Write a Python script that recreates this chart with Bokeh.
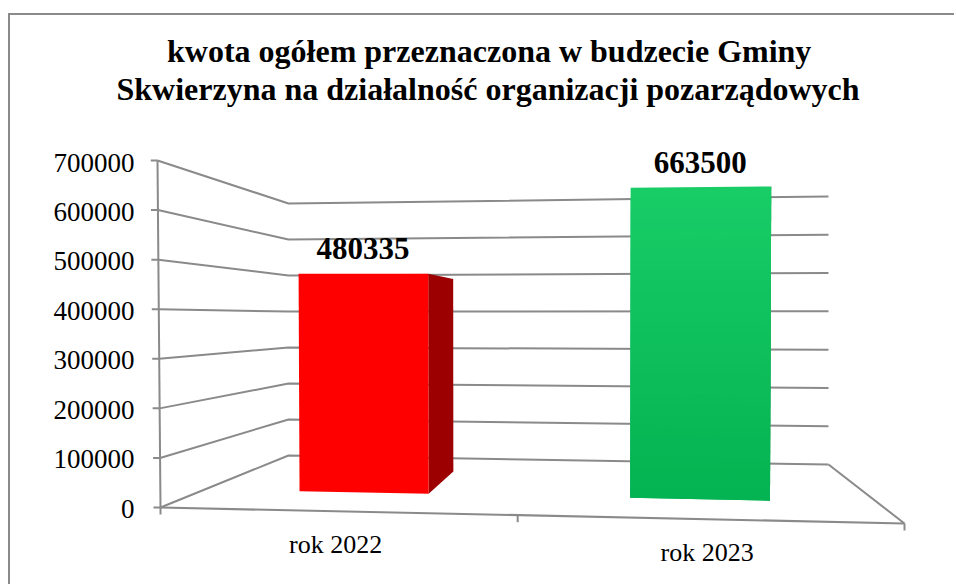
from bokeh.plotting import figure
from bokeh.models import Range1d, LinearAxis, FixedTicker, Title
from bokeh.core.properties import value
from bokeh.embed import file_html
from bokeh.resources import INLINE

# ---- chart values
categories = ["rok 2022", "rok 2023"]
amounts = [480335, 663500]
tick_values = [0, 100000, 200000, 300000, 400000, 500000, 600000, 700000]
title_lines = ["kwota ogółem przeznaczona w budzecie Gminy",
               "Skwierzyna na działalność organizacji pozarządowych"]
bar_front_colors = [("#FF0000", "#FF0000"), ("#18CC66", "#04B351")]
bar_side_colors = ["#9C0000", "#066B30"]

VMAX = 700000
GRAY = "#8A8A8A"
SERIF = "Liberation Serif"

# ---- the perspective box of the 3-D chart, in page pixels
EDGE_FL = (160, 507, 157, 160)
EDGE_BL = (288, 455, 288, 203)
EDGE_BR = (828, 464, 828, 196)
EDGE_FR = (904, 523, 907, 152)
PERSP = 1.083
BAR_WIDTH = 0.40
DEPTH_FRONT, DEPTH_BACK = 0.35, 0.76


def lerp(a, b, t):
    return a + (b - a) * t


def on_edge(edge, v):
    f = v / VMAX
    return lerp(edge[0], edge[2], f), lerp(edge[1], edge[3], f)


def project(u, d, v):
    t = u / len(categories)
    f = t / (t + (1 - t) * PERSP) if t > 0 else 0.0
    lx, ly = on_edge(EDGE_FL, v)
    bx, by = on_edge(EDGE_BL, v)
    rx, ry = on_edge(EDGE_FR, v)
    cx, cy = on_edge(EDGE_BR, v)
    xl, yl = lerp(lx, bx, d), lerp(ly, by, d)
    xr, yr = lerp(rx, cx, d), lerp(ry, cy, d)
    return lerp(xl, xr, f), lerp(yl, yr, f)


def hex_mix(a, b, t):
    ca = [int(a[i:i + 2], 16) for i in (1, 3, 5)]
    cb = [int(b[i:i + 2], 16) for i in (1, 3, 5)]
    return "#%02X%02X%02X" % tuple(round(lerp(x, y, t)) for x, y in zip(ca, cb))


CANVAS_LEFT, CANVAS_TOP = 10, 15
FRAME_LEFT, FRAME_RIGHT, FRAME_TOP, FRAME_BOTTOM = 150, 956, 106, 586
ZERO_LABEL_Y, TOP_LABEL_Y = 508, 162
per_px = VMAX / (ZERO_LABEL_Y - TOP_LABEL_Y)

p = figure(width=FRAME_RIGHT - CANVAS_LEFT, height=FRAME_BOTTOM - CANVAS_TOP,
           output_backend="svg", toolbar_location=None,
           x_range=Range1d(FRAME_LEFT, FRAME_RIGHT),
           y_range=Range1d(FRAME_BOTTOM, FRAME_TOP),
           x_axis_type=None, y_axis_type=None,
           min_border_left=FRAME_LEFT - CANVAS_LEFT, min_border_right=0,
           min_border_top=FRAME_TOP - CANVAS_TOP, min_border_bottom=0,
           background_fill_color="white", border_fill_color="white",
           outline_line_color=None,
           margin=(13, 0, 0, 8),
           styles={"border-left": f"2px solid {GRAY}", "border-top": f"2px solid {GRAY}"})
p.grid.visible = False

p.extra_y_ranges = {"amount": Range1d((ZERO_LABEL_Y - FRAME_BOTTOM) * per_px,
                                      (ZERO_LABEL_Y - FRAME_TOP) * per_px)}
axis = LinearAxis(y_range_name="amount", ticker=FixedTicker(ticks=tick_values),
                  axis_line_color=None, major_tick_line_color=None,
                  minor_tick_line_color=None, major_tick_out=0, major_tick_in=0,
                  major_label_standoff=16,
                  major_label_text_font=SERIF, major_label_text_font_size="27px",
                  major_label_text_color="#000000")
axis.formatter.use_scientific = False
p.add_layout(axis, "left")

n = len(categories)
for v in tick_values:
    a = on_edge(EDGE_FL, v)
    b = on_edge(EDGE_BL, v)
    c = on_edge(EDGE_BR, v)
    p.line([a[0], b[0], c[0]], [a[1], b[1], c[1]], line_color=GRAY, line_width=2)
    p.line([a[0] - 7, a[0]], [a[1], a[1]], line_color=GRAY, line_width=2)

a0, a1 = on_edge(EDGE_FL, 0), on_edge(EDGE_FL, VMAX)
p.line([a1[0], a0[0]], [a1[1], a0[1]], line_color=GRAY, line_width=2)
fr = on_edge(EDGE_FR, 0)
br = on_edge(EDGE_BR, 0)
p.line([a0[0], fr[0]], [a0[1], fr[1]], line_color=GRAY, line_width=2.2)
p.line([br[0], fr[0]], [br[1], fr[1]], line_color=GRAY, line_width=2)
for u in range(n + 1):
    x, y = project(u, 0, 0)
    p.line([x, x], [y, y + 7], line_color=GRAY, line_width=2)

STEPS = 30
for i, (cat, val) in enumerate(zip(categories, amounts)):
    u0, u1 = i + 0.5 - BAR_WIDTH / 2, i + 0.5 + BAR_WIDTH / 2
    side = [project(u1, DEPTH_FRONT, val), project(u1, DEPTH_BACK, val),
            project(u1, DEPTH_BACK, 0), project(u1, DEPTH_FRONT, 0)]
    p.patch([q[0] for q in side], [q[1] for q in side],
            fill_color=bar_side_colors[i], line_color=None)
    top_c, low_c = bar_front_colors[i]
    steps = 1 if top_c == low_c else STEPS
    for s in range(steps):
        h_hi = val * (1 - s / steps)
        h_lo = val * max(0, 1 - (s + 2) / steps)
        quad = [project(u0, DEPTH_FRONT, h_hi), project(u1, DEPTH_FRONT, h_hi),
                project(u1, DEPTH_FRONT, h_lo), project(u0, DEPTH_FRONT, h_lo)]
        p.patch([q[0] for q in quad], [q[1] for q in quad],
                fill_color=hex_mix(top_c, low_c, s / max(1, steps - 1)), line_color=None)
    lx, ly = project(i + 0.5, DEPTH_FRONT, val)
    p.text([lx], [ly], text=[str(val)], text_font=value(SERIF),
           text_font_size=value("31px"), text_font_style="bold",
           text_color="#000000", text_align="center", text_baseline="alphabetic",
           y_offset=-25)
    cx, cy = project(i + 0.5, 0, 0)
    p.text([cx], [cy], text=[cat], text_font=value(SERIF),
           text_font_size=value("26px"), text_color="#000000",
           text_align="center", text_baseline="alphabetic", y_offset=33)

# heading: one Title per line, nearest the plot first
for line, off in zip(reversed(title_lines), (-34, 16.5)):
    p.add_layout(Title(text=line, align="left", offset=off, text_font=SERIF,
                       text_font_size="32px", text_font_style="bold",
                       text_color="#000000", standoff=0), "above")

open("out.html", "w").write(file_html(p, INLINE))
